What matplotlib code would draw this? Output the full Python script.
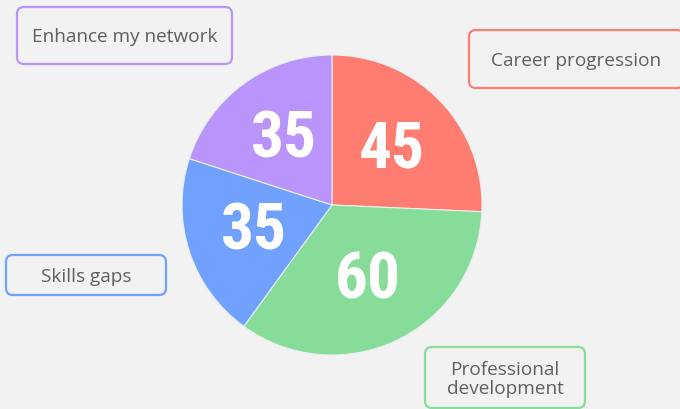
import matplotlib.pyplot as plt
from matplotlib.patches import FancyBboxPatch

# pie data, clockwise from the top
categories = ["Career progression", "Professional development", "Skills gaps", "Enhance my network"]
values = [45, 60, 35, 35]
colors = ["#ff7c70", "#88dc99", "#70a1ff", "#b995fb"]

# label boxes in pixel coords: (left, top, right, bottom)
box_pos = [(469, 30, 684, 88), (425, 347, 585, 408), (6, 255, 166, 295), (17, 7, 232, 64)]
box_text = ["Career progression", "Professional\ndevelopment", "Skills gaps", "Enhance my network"]

W, H = 680, 409
bg = "#f1f2f1"

fig = plt.figure(figsize=(W / 100, H / 100), dpi=100, facecolor=bg)
ax = fig.add_axes([0, 0, 1, 1])

total = sum(values)
wedges, texts, autotexts = ax.pie(
    values, colors=colors, startangle=90, counterclock=False,
    center=(332, H - 205), radius=150, frame=True,
    wedgeprops=dict(edgecolor="#e8f0f0", linewidth=0.8),
    autopct=lambda p: f"{p * total / 100:.0f}", pctdistance=0.55,
    textprops=dict(color="white", fontsize=47, fontweight="bold", fontstretch="condensed",
                   family=["Roboto Condensed", "DejaVu Sans"]),
)
for t in autotexts:
    x, y = t.get_position()
    t.set_position((x, y - 2))

ax.set_xlim(0, W)
ax.set_ylim(0, H)
ax.set_aspect("auto")
ax.set_facecolor(bg)
ax.axis("off")

for (l, t, r, b), txt, c in zip(box_pos, box_text, colors):
    patch = FancyBboxPatch((l, H - b), r - l, b - t, boxstyle="round,pad=0,rounding_size=7",
                           facecolor=bg, edgecolor=c, linewidth=1.6)
    ax.add_patch(patch)
    ax.text((l + r) / 2 if r < W else 576, H - (t + b) / 2 - 2, txt, ha="center", va="center",
            fontsize=13.7, color="#5e5f5f", family="Open Sans", linespacing=1.1)

fig.savefig("out.png", dpi=100, facecolor=bg)
